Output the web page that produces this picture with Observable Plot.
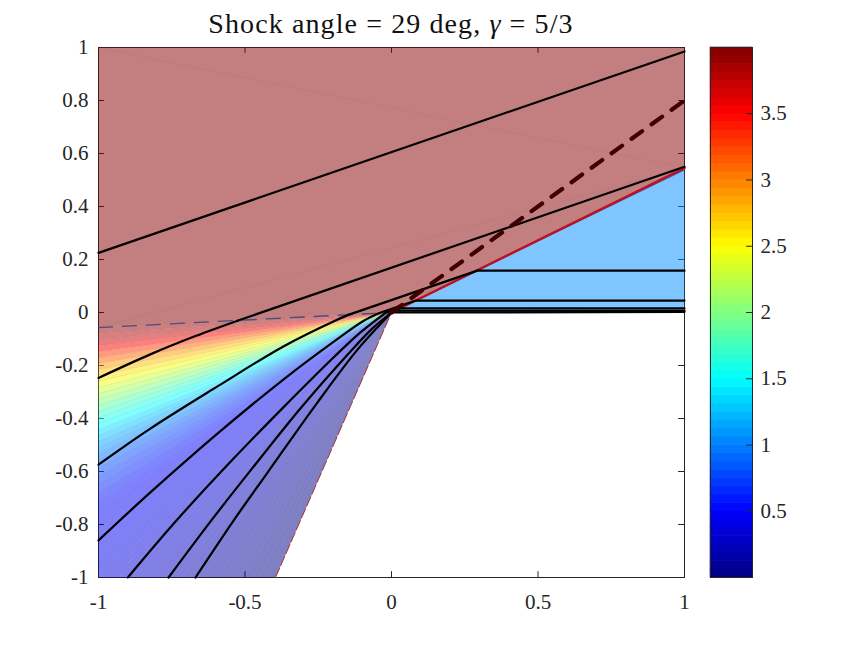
<!DOCTYPE html>
<html>
<head>
<meta charset="utf-8">
<script src="https://cdn.jsdelivr.net/npm/d3@7"></script>
<script src="https://cdn.jsdelivr.net/npm/@observablehq/plot@0.6"></script>
<style>
  html, body { margin: 0; background: #fff; }
  #wrap { position: relative; width: 864px; height: 648px; overflow: hidden; }
  #wrap svg { position: absolute; left: 0; top: 0; background: transparent; }
  #title { position: absolute; left: 98px; width: 586px; top: 8px; text-align: center;
    font: 28px "Liberation Serif", serif; letter-spacing: 1.1px; color: #111; white-space: nowrap; }
</style>
</head>
<body>
<div id="wrap">
  <div id="title">Shock angle = 29 deg, <i>&gamma;</i> = 5/3</div>
</div>
<script>
// axis ticks
const xTicks = [-1, -0.5, 0, 0.5, 1];
const yTicks = [-1, -0.8, -0.6, -0.4, -0.2, 0, 0.2, 0.4, 0.6, 0.8, 1];
const cbarTicks = [0.5, 1, 1.5, 2, 2.5, 3, 3.5];

// jet colormap
const jetDomain = [0, 0.5, 1.5, 2.5, 3.5, 4];
const jetRange = ["#000080", "#0000ff", "#00ffff", "#ffff00", "#ff0000", "#800000"];

// colorbar levels
const cbarEdges = [0, 0.0625, 0.125, 0.1875, 0.25, 0.3125, 0.375, 0.4375, 0.5, 0.5625, 0.625, 0.6875, 0.75, 0.8125, 0.875, 0.9375,
  1, 1.0625, 1.125, 1.1875, 1.25, 1.3125, 1.375, 1.4375, 1.5, 1.5625, 1.625, 1.6875, 1.75, 1.8125, 1.875, 1.9375,
  2, 2.0625, 2.125, 2.1875, 2.25, 2.3125, 2.375, 2.4375, 2.5, 2.5625, 2.625, 2.6875, 2.75, 2.8125, 2.875, 2.9375,
  3, 3.0625, 3.125, 3.1875, 3.25, 3.3125, 3.375, 3.4375, 3.5, 3.5625, 3.625, 3.6875, 3.75, 3.8125, 3.875, 3.9375, 4];

// fan: where each ray from the origin leaves the box
const fanEdgeX = [-1, -1, -1, -1, -1, -1, -1, -1, -1, -1, -1, -1, -1, -1, -1, -1, -1, -1, -1, -1,
  -1, -1, -1, -1, -1, -1, -1, -1, -1, -1, -1, -1, -1, -1, -1, -1,
  -0.976, -0.952, -0.928, -0.904, -0.881, -0.857, -0.833, -0.809, -0.785, -0.761, -0.737, -0.713,
  -0.689, -0.666, -0.642, -0.618, -0.594, -0.570, -0.546, -0.522, -0.498, -0.474, -0.451, -0.427, -0.396];
const fanEdgeY = [-0.057, -0.079, -0.102, -0.125, -0.147, -0.170, -0.192, -0.215, -0.238, -0.260, -0.283, -0.306,
  -0.328, -0.351, -0.374, -0.396, -0.419, -0.442, -0.464, -0.487, -0.509, -0.532, -0.558, -0.585,
  -0.615, -0.645, -0.679, -0.713, -0.747, -0.785, -0.823, -0.860, -0.898, -0.936, -0.974, -1,
  -1, -1, -1, -1, -1, -1, -1, -1, -1, -1, -1, -1, -1, -1, -1, -1, -1, -1, -1, -1, -1, -1, -1, -1, -1];
// value of the wedge between ray i and ray i+1
const fanValues = [3.9, 3.8, 3.68, 3.5, 3.3, 3.1, 2.9, 2.75, 2.6, 2.45, 2.3, 2.15, 2.0, 1.85, 1.72, 1.6, 1.5, 1.38,
  1.27, 1.16, 1.06, 0.97, 0.87, 0.78, 0.70, 0.63, 0.56, 0.51, 0.48, 0.46, 0.45, 0.44, 0.43, 0.42, 0.41,
  0.40, 0.38, 0.37, 0.35, 0.34, 0.32, 0.31, 0.29, 0.28, 0.26, 0.25, 0.23, 0.22, 0.20, 0.18, 0.17, 0.15, 0.14,
  0.12, 0.11, 0.09, 0.08, 0.06, 0.05, 0.03];

// upstream and downstream regions
const upstreamX = [-1, -1, 1, 1, 0];
const upstreamY = [-0.057, 1, 1, 0.545, 0];
const upstreamValue = 3.97;
const downstreamX = [0, 1, 1];
const downstreamY = [0, 0.545, 0];
const downstreamValue = 1.05;
const sliverX = [0, 1, 1];
const sliverY = [0, 0.545, 0.536];
const sliverValue = 0.05;

// shocks and reference lines
const shockX = [0, 1];
const shockY = [0, 0.545];
const fanTopX = [-1, 0];
const fanTopY = [-0.057, 0];
const fanBottomX = [-0.396, 0];
const fanBottomY = [-1, 0];
const dashX = [0, 1];
const dashY = [0, 0.8];
const seam1X = [-1, 1];
const seam1Y = [1, 0.545];
const seam2X = [-1, 1];
const seam2Y = [-0.057, 0.545];

// field lines, curved part inside the fan
const fieldCurves = [
  { x: [-1, -0.823, -0.669, -0.523], y: [-0.247, -0.158, -0.089, -0.03] },
  { x: [-1, -0.823, -0.594, -0.369, -0.191, -0.145], y: [-0.574, -0.438, -0.279, -0.128, -0.03, -0.008] },
  { x: [-1, -0.823, -0.594, -0.369, -0.198, -0.096, -0.041], y: [-0.86, -0.679, -0.457, -0.253, -0.111, -0.032, -0.002] },
  { x: [-0.9, -0.734, -0.539, -0.369, -0.198, -0.106, -0.02], y: [-1, -0.785, -0.551, -0.358, -0.17, -0.075, -0.001] },
  { x: [-0.761, -0.618, -0.481, -0.311, -0.14, -0.065, 0], y: [-1, -0.789, -0.596, -0.362, -0.147, -0.06, 0] },
  { x: [-0.669, -0.539, -0.423, -0.253, -0.116, 0], y: [-1, -0.785, -0.604, -0.34, -0.14, 0] }
];
// straight parts between and behind the shocks
const fieldStraights = [
  { x: [-1, 1], y: [0.225, 0.985] },
  { x: [-0.523, 1], y: [-0.03, 0.55] },
  { x: [-0.145, 0.293, 1], y: [-0.008, 0.158, 0.158] },
  { x: [-0.041, 0.083, 1], y: [-0.002, 0.045, 0.045] },
  { x: [-0.02, 0.03, 1], y: [-0.001, 0.016, 0.016] },
  { x: [0, 0.013, 1], y: [0, 0.007, 0.007] },
  { x: [0, 1], y: [0, 0.002] }
];

const toRows = (xs, ys, extra) => xs.map((x, i) => ({ x, y: ys[i], ...extra }));

let patches = [];
patches = patches.concat(toRows(upstreamX, upstreamY, { id: "up", v: upstreamValue }));
patches = patches.concat(toRows(downstreamX, downstreamY, { id: "down", v: downstreamValue }));
patches = patches.concat(toRows(sliverX, sliverY, { id: "sliver", v: sliverValue }));
fanValues.forEach((v, i) => {
  patches.push({ x: 0, y: 0, id: "w" + i, v });
  patches.push({ x: fanEdgeX[i], y: fanEdgeY[i], id: "w" + i, v });
  patches.push({ x: fanEdgeX[i + 1], y: fanEdgeY[i + 1], id: "w" + i, v });
});

let rays = fanEdgeX.map((x, i) => ({ x, y: fanEdgeY[i] }));
let curveRows = fieldCurves.flatMap((l, k) => toRows(l.x, l.y, { id: k }));
let straightRows = fieldStraights.flatMap((l, k) => toRows(l.x, l.y, { id: k }));

const font = '"Liberation Serif", serif';
const axisColor = "#262626";
const colorScale = { type: "linear", domain: jetDomain, range: jetRange, interpolate: "rgb" };

let chart = Plot.plot({
  width: 864,
  height: 648,
  marginLeft: 98,
  marginRight: 180,
  marginTop: 47,
  marginBottom: 71,
  style: { fontFamily: font, fontSize: "21px", color: axisColor, background: "transparent" },
  x: { domain: [-1, 1] },
  y: { domain: [-1, 1] },
  color: colorScale,
  marks: [
    // ticks and box sit under the patches, like in the original
    Plot.ruleY(yTicks, { x1: -1, x2: -0.98, y: d => d, stroke: axisColor }),
    Plot.ruleY(yTicks, { x1: 0.98, x2: 1, y: d => d, stroke: axisColor }),
    Plot.ruleX(xTicks, { y1: -1, y2: -0.978, x: d => d, stroke: axisColor }),
    Plot.ruleX(xTicks, { y1: 0.978, y2: 1, x: d => d, stroke: axisColor }),
    Plot.frame({ stroke: axisColor, strokeWidth: 1 }),
    Plot.line(patches, {
      x: "x", y: "y", z: "id", fill: "v", stroke: null, fillOpacity: 0.5, curve: "linear-closed"
    }),
    Plot.link(rays, { x1: 0, y1: 0, x2: "x", y2: "y", stroke: "#223", strokeOpacity: 0.1, strokeWidth: 0.6 }),
    Plot.line(toRows(seam1X, seam1Y), { x: "x", y: "y", stroke: "#800000", strokeOpacity: 0.08, strokeWidth: 0.7 }),
    Plot.line(toRows(seam2X, seam2Y), { x: "x", y: "y", stroke: "#800000", strokeOpacity: 0.08, strokeWidth: 0.7 }),
    Plot.line(toRows(fanTopX, fanTopY), { x: "x", y: "y", stroke: "#4c4c80", strokeWidth: 1.3, strokeDasharray: "14,10" }),
    Plot.line(toRows(fanBottomX, fanBottomY), { x: "x", y: "y", stroke: "#b03030", strokeWidth: 1, strokeDasharray: "10,3" }),
    Plot.line(toRows(shockX, shockY), { x: "x", y: "y", stroke: "#bb1122", strokeWidth: 2.5 }),
    Plot.line(curveRows, { x: "x", y: "y", z: "id", stroke: "#000", strokeWidth: 2.2, curve: "catmull-rom" }),
    Plot.line(straightRows, { x: "x", y: "y", z: "id", stroke: "#000", strokeWidth: 2.2 }),
    Plot.line(toRows(dashX, dashY), { x: "x", y: "y", stroke: "#400000", strokeWidth: 4.2, strokeDasharray: "13,11.7" }),
    Plot.axisX(xTicks, { tickSize: 0, tickPadding: 17, tickFormat: d => String(d), label: null, fontSize: 21, fill: axisColor }),
    Plot.axisY(yTicks, { tickSize: 0, tickPadding: 10, tickFormat: d => String(d), label: null, fontSize: 21, fill: axisColor })
  ]
});
document.getElementById("wrap").append(chart);

// colorbar
let cbar = d3.pairs(cbarEdges).map(([lo, hi]) => ({ lo, hi, v: (lo + hi) / 2 }));

let colorbar = Plot.plot({
  width: 864,
  height: 648,
  marginLeft: 710,
  marginRight: 112,
  marginTop: 47,
  marginBottom: 71,
  style: { fontFamily: font, fontSize: "21px", color: axisColor, background: "transparent" },
  x: { domain: [0, 1], axis: null },
  y: { domain: [0, 4], axis: null },
  color: colorScale,
  marks: [
    Plot.rect(cbar, { x1: 0, x2: 1, y1: "lo", y2: "hi", fill: "v", inset: -0.3 }),
    Plot.ruleY(cbarTicks, { x1: 0.86, x2: 1, y: d => d, stroke: axisColor }),
    Plot.frame({ stroke: axisColor, strokeWidth: 1 }),
    Plot.axisY(cbarTicks, { anchor: "right", tickSize: 0, tickPadding: 8, tickFormat: d => String(d), label: null, fontSize: 21, fill: axisColor })
  ]
});
document.getElementById("wrap").append(colorbar);
</script>
</body>
</html>
